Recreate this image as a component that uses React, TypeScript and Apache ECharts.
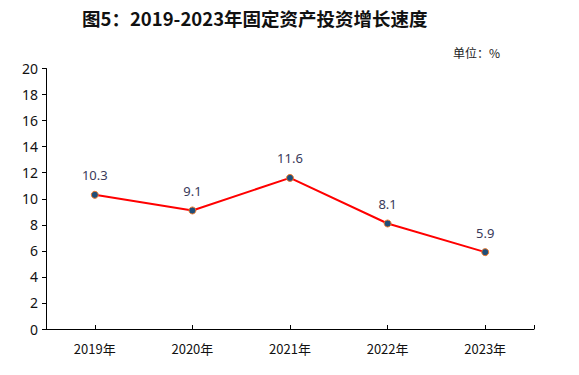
import React, { useEffect, useRef } from "react";
import * as echarts from "echarts";

const categories = ["2019年", "2020年", "2021年", "2022年", "2023年"];
const growth = [10.3, 9.1, 11.6, 8.1, 5.9];
const yTicks = { min: 0, max: 20, interval: 2 };
const title = "图5：2019-2023年固定资产投资增长速度";
const unitText = "单位：%";

export default function App() {
  const ref = useRef<HTMLDivElement>(null);
  useEffect(() => {
    document.body.style.margin = "0";
    if (!ref.current) return;
    const chart = echarts.init(ref.current, null, { renderer: "svg" });
    chart.setOption({
      animation: false,
      backgroundColor: "#ffffff",
      graphic: [
        {
          type: "text",
          left: 82,
          top: 9,
          style: {
            text: title,
            fontSize: 18.5,
            fontWeight: "bold",
            fill: "#111",
            fontFamily: "Noto Sans CJK SC",
          },
        },
        {
          type: "text",
          left: 453,
          top: 46,
          style: {
            text: unitText,
            fontSize: 12,
            fill: "#222",
            fontFamily: "Noto Sans CJK SC",
          },
        },
      ],
      grid: { left: 46, right: 45, top: 68.5, bottom: 46, containLabel: false },
      xAxis: [
        {
          type: "category",
          data: categories,
          boundaryGap: true,
          axisLine: { lineStyle: { color: "#000", width: 1 } },
          axisTick: { show: true, inside: true, alignWithLabel: true, length: 4, lineStyle: { color: "#000" } },
          axisLabel: { color: "#111", fontSize: 13, margin: 13, fontFamily: "Noto Sans CJK SC" },
        },
        {
          type: "value",
          position: "bottom",
          min: 0,
          max: categories.length,
          interval: categories.length,
          axisLine: { show: false },
          axisTick: { show: true, inside: true, length: 4, lineStyle: { color: "#000" } },
          axisLabel: { show: false },
          splitLine: { show: false },
        },
      ],
      yAxis: {
        type: "value",
        min: yTicks.min,
        max: yTicks.max,
        interval: yTicks.interval,
        splitLine: { show: false },
        axisLine: { show: true, lineStyle: { color: "#000", width: 1 } },
        axisTick: { show: true, length: 4, lineStyle: { color: "#000" } },
        axisLabel: { color: "#111", fontSize: 14, margin: 8, fontFamily: "Noto Sans" },
      },
      series: [
        {
          type: "line",
          xAxisIndex: 0,
          data: growth,
          symbol: "circle",
          symbolSize: 7,
          lineStyle: { color: "#ff0000", width: 2 },
          itemStyle: { color: "#1f4e79", borderColor: "#ed7d31", borderWidth: 1 },
          label: {
            show: true,
            position: "top",
            distance: 9,
            color: "#3a3a5a",
            fontSize: 13,
            fontFamily: "Noto Sans",
          },
        },
      ],
    });
    return () => chart.dispose();
  }, []);
  return <div ref={ref} style={{ width: 579, height: 375 }} />;
}
